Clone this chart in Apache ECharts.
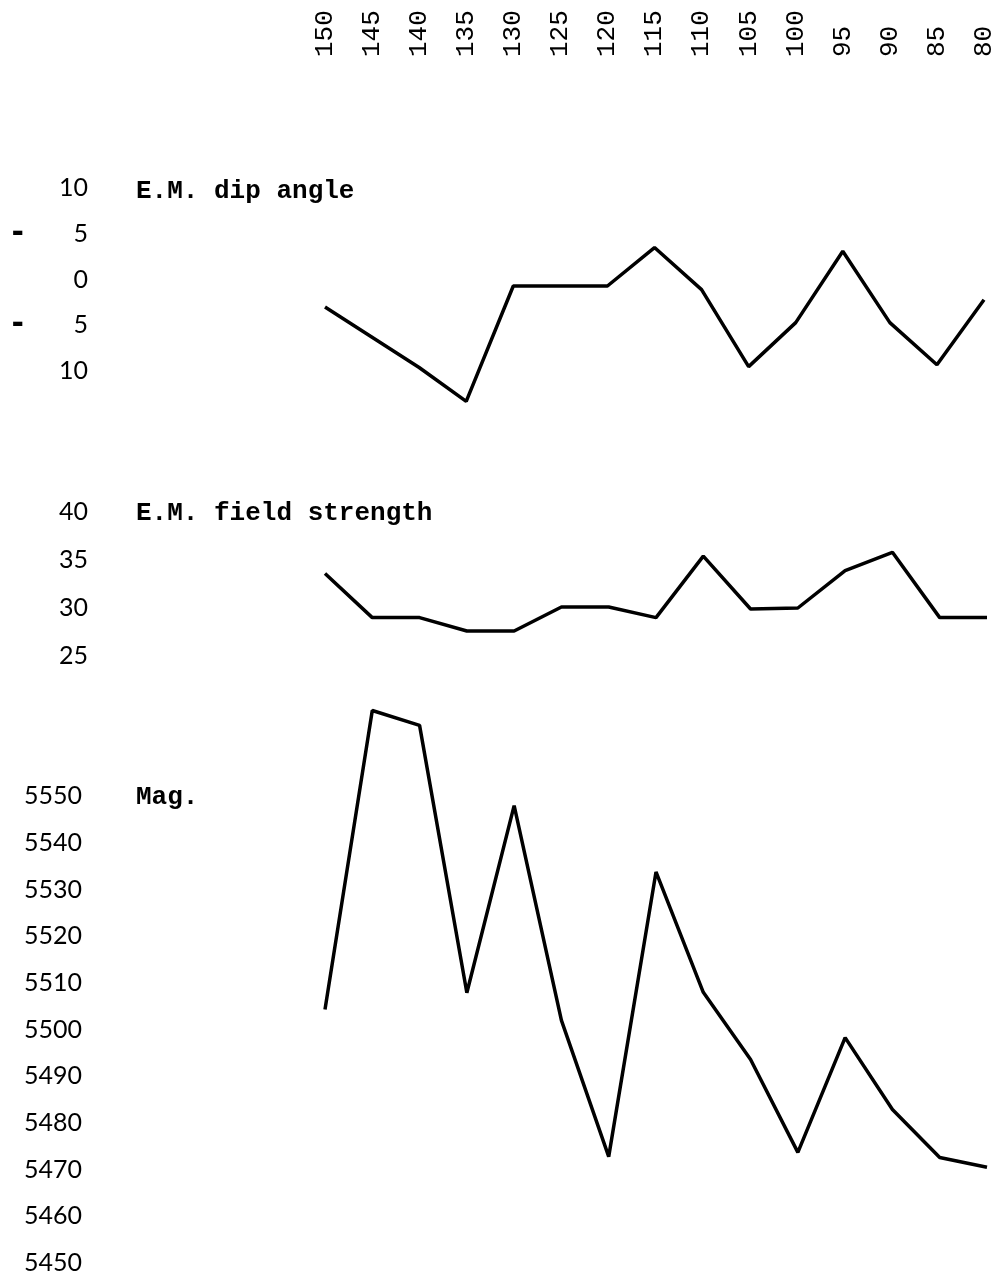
<!DOCTYPE html>
<html>
<head>
<meta charset="utf-8">
<script src="https://cdn.jsdelivr.net/npm/echarts@6/dist/echarts.min.js"></script>
<style>html,body{margin:0;padding:0;background:#fff}#c{width:997px;height:1282px}</style>
</head>
<body>
<div id="c"></div>
<script>
// Station distances (top axis)
const distances = [150,145,140,135,130,125,120,115,110,105,100,95,90,85,80];
// E.M. dip angle (degrees)
const dipAngle = [-3,-6.3,-9.6,-13.3,-0.7,-0.7,-0.7,3.5,-1.1,-9.5,-4.7,3.1,-4.7,-9.3,-2.2];
// E.M. field strength
const fieldStrength = [33.6,29,29,27.6,27.6,30.1,30.1,29,35.4,29.9,30,33.9,35.8,29,29];
// Magnetometer
const magnetometer = [5504.3,5568.4,5565.2,5507.9,5548,5502,5472.8,5533.8,5508,5493.6,5473.7,5498.3,5482.9,5472.6,5470.5];
// Tick labels
const dipTicks = [10,5,0,-5,-10];
const dipTickLabels = ['10','-5','0','-5','10'];
const fieldTicks = [40,35,30,25];
const magTicks = [5550,5540,5530,5520,5510,5500,5490,5480,5470,5460,5450];
const panelTitles = ['E.M. dip angle','E.M. field strength','Mag.'];

const mono = '"Liberation Mono", "DejaVu Sans Mono", monospace';
const sans = 'Lato, "Noto Sans", sans-serif';

const chart = echarts.init(document.getElementById('c'), null, {renderer:'canvas'});

function xAxisCfg(grid, show) {
  return {
    type:'value', gridIndex:grid, min:80, max:150, interval:5, inverse:true,
    position:'top', show:true,
    axisLine:{show:false}, axisTick:{show:false}, splitLine:{show:false},
    axisLabel:{show:show, rotate:90, margin:131, color:'#000', fontFamily:mono, fontSize:26}
  };
}
const yLabelBase = {color:'#000', fontFamily:sans, fontSize:25, align:'right'};

const option = {
  backgroundColor:'#fff',
  animation:false,
  title: panelTitles.map((t,i)=>({
    text:t, left:131, top:[173,495,779][i],
    textStyle:{fontFamily:mono, fontSize:26, fontWeight:'bold', color:'#000'}
  })),
  grid:[
    {left:325, right:10, top:188, height:229},
    {left:325, right:10, top:512, height:144},
    {left:325, right:10, top:703, height:560}
  ],
  xAxis:[xAxisCfg(0,true), xAxisCfg(1,false), xAxisCfg(2,false)],
  yAxis:[
    {type:'value', gridIndex:0, min:-15, max:10, interval:5,
     axisLine:{show:false}, axisTick:{show:false}, splitLine:{show:false},
     axisLabel:Object.assign({}, yLabelBase, {margin:237,
       formatter:function(v){
         const k = dipTicks.indexOf(v);
         if (k < 0) return '';
         const s = dipTickLabels[k];
         if (s.charAt(0)==='-') return '{d|-}{n|' + s.slice(1) + '}';
         return '{n|' + s + '}';
       },
       rich:{d:{width:62, align:'left', fontFamily:'"DejaVu Sans", sans-serif', fontSize:30, fontWeight:'bold', color:'#000'},
             n:{fontFamily:sans, fontSize:25, color:'#000'}}
     })},
    {type:'value', gridIndex:1, min:25, max:40, interval:5,
     axisLine:{show:false}, axisTick:{show:false}, splitLine:{show:false},
     axisLabel:Object.assign({}, yLabelBase, {margin:237,
       formatter:v=> fieldTicks.indexOf(v)>=0 ? String(v) : ''})},
    {type:'value', gridIndex:2, min:5450, max:5570, interval:10,
     axisLine:{show:false}, axisTick:{show:false}, splitLine:{show:false},
     axisLabel:Object.assign({}, yLabelBase, {margin:243,
       formatter:v=> magTicks.indexOf(v)>=0 ? String(v) : ''})}
  ],
  series:[
    {type:'line', xAxisIndex:0, yAxisIndex:0, showSymbol:false, clip:false,
     lineStyle:{color:'#000', width:3.5}, data:distances.map((d,i)=>[d,dipAngle[i]])},
    {type:'line', xAxisIndex:1, yAxisIndex:1, showSymbol:false, clip:false,
     lineStyle:{color:'#000', width:3.5}, data:distances.map((d,i)=>[d,fieldStrength[i]])},
    {type:'line', xAxisIndex:2, yAxisIndex:2, showSymbol:false, clip:false,
     lineStyle:{color:'#000', width:3.5}, data:distances.map((d,i)=>[d,magnetometer[i]])}
  ]
};
chart.setOption(option);
</script>
</body>
</html>
